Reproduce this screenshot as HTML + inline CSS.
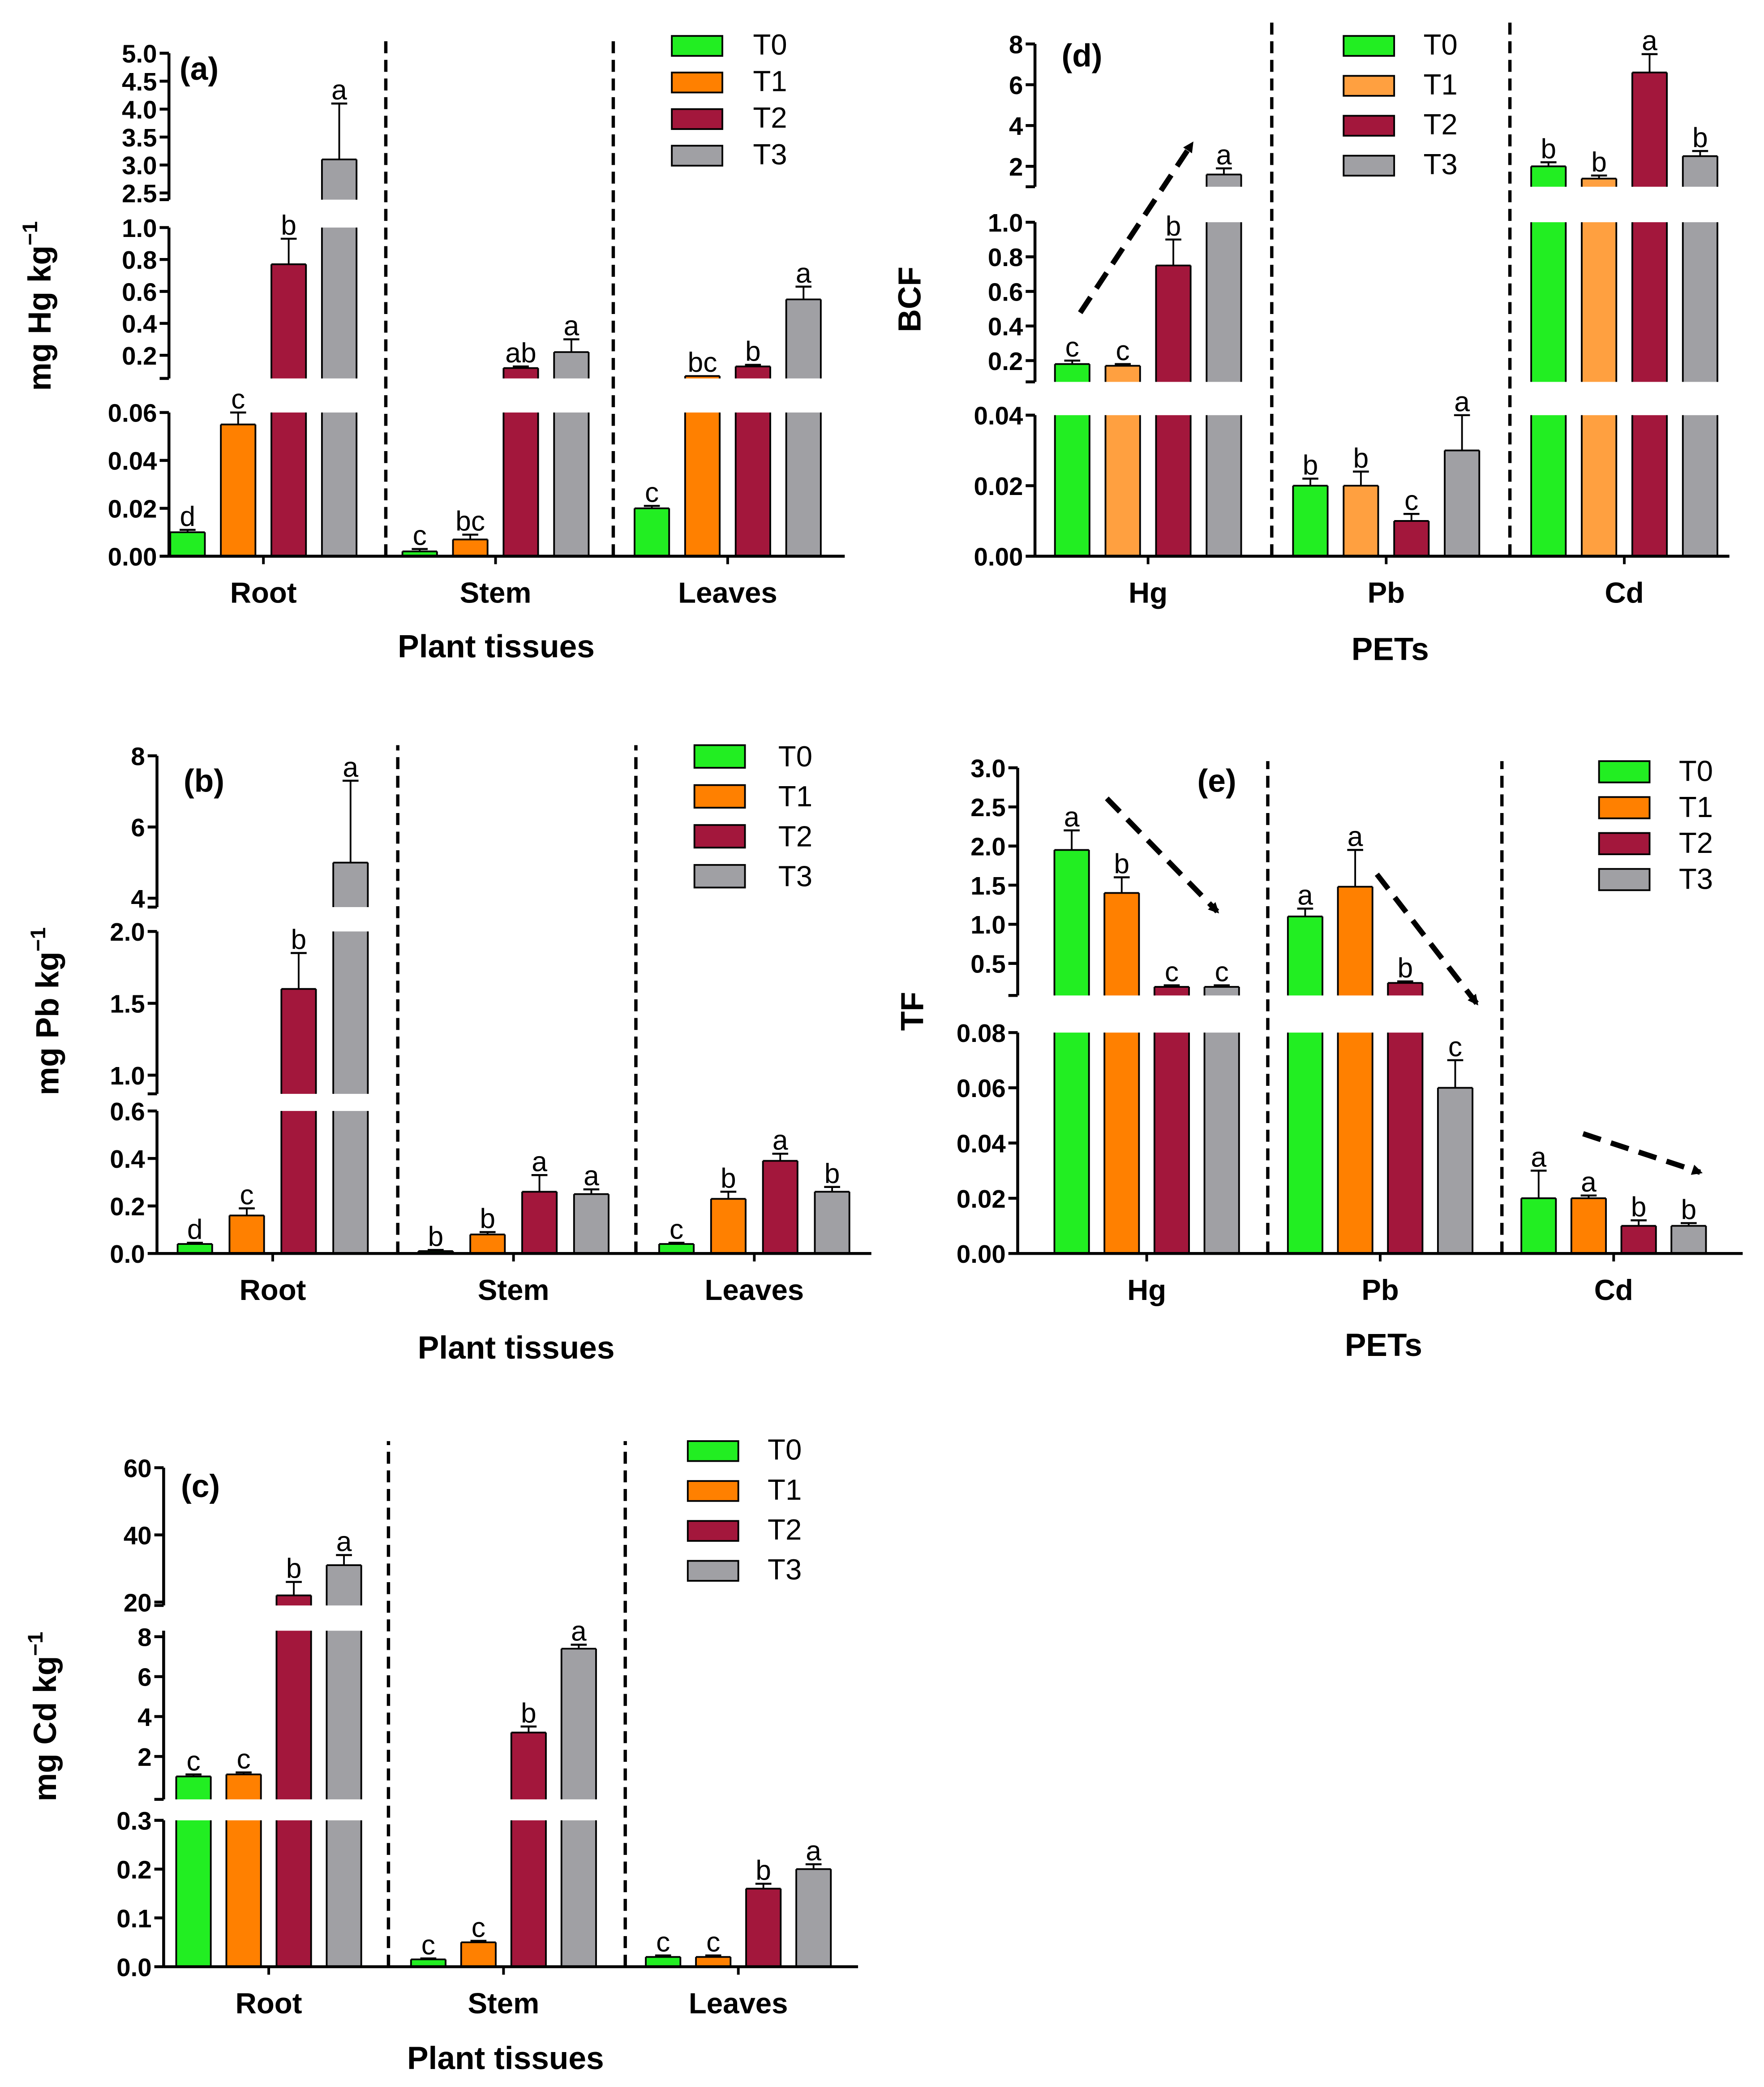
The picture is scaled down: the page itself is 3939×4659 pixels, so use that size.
<!DOCTYPE html>
<html><head><meta charset="utf-8"><style>
html,body{margin:0;padding:0;background:#fff;}
svg{display:block;}
text{font-family:"Liberation Sans",Arial,sans-serif;}
.tick{font-weight:bold;font-size:19px;}
.grp{font-weight:bold;font-size:22px;}
.ttl{font-weight:bold;font-size:24px;}
.let{font-size:21px;}
.leg{font-size:22px;}
</style></head><body>
<svg id="fig" width="3939" height="4659" viewBox="0 0 1326 1568.4" xmlns="http://www.w3.org/2000/svg">
<defs><marker id="ah" markerWidth="8" markerHeight="8" refX="6" refY="4" orient="auto" markerUnits="userSpaceOnUse"><path d="M0,0 L8,4 L0,8 z" fill="#000"/></marker></defs>
<rect width="1326" height="1568.4" fill="#fff"/>
</svg>
<script>
const seriesNames=['T0','T1','T2','T3'];
// (a) Hg
const aCategories=['Root','Stem','Leaves'];
const aValues=[[0.01,0.002,0.02],[0.055,0.007,0.07],[0.77,0.12,0.13],[3.1,0.22,0.55]];
const aErrTop=[[0.011,0.003,0.021],[0.06,0.009,0.072],[0.93,0.13,0.14],[4.1,0.3,0.63]];
const aLetters=[['d','c','c'],['c','bc','bc'],['b','ab','b'],['a','a','a']];
const aTicks=[[0,0.02,0.04,0.06],[0.2,0.4,0.6,0.8,1.0],[2.5,3.0,3.5,4.0,4.5,5.0]];
const aTickLabels=[['0.00','0.02','0.04','0.06'],['0.2','0.4','0.6','0.8','1.0'],['2.5','3.0','3.5','4.0','4.5','5.0']];
// (b) Pb
const bCategories=['Root','Stem','Leaves'];
const bValues=[[0.04,0.01,0.04],[0.16,0.08,0.23],[1.6,0.26,0.39],[5.0,0.25,0.26]];
const bErrTop=[[0.045,0.015,0.045],[0.19,0.09,0.26],[1.85,0.33,0.42],[7.3,0.27,0.28]];
const bLetters=[['d','b','c'],['c','b','b'],['b','a','a'],['a','a','b']];
const bTicks=[[0,0.2,0.4,0.6],[1.0,1.5,2.0],[4,6,8]];
const bTickLabels=[['0.0','0.2','0.4','0.6'],['1.0','1.5','2.0'],['4','6','8']];
// (c) Cd
const cCategories=['Root','Stem','Leaves'];
const cValues=[[1.0,0.015,0.02],[1.1,0.05,0.02],[22,3.2,0.16],[31,7.4,0.2]];
const cErrTop=[[1.1,0.017,0.023],[1.2,0.053,0.023],[26,3.5,0.17],[34,7.6,0.21]];
const cLetters=[['c','c','c'],['c','c','c'],['b','b','b'],['a','a','a']];
const cTicks=[[0,0.1,0.2,0.3],[2,4,6,8],[20,40,60]];
const cTickLabels=[['0.0','0.1','0.2','0.3'],['2','4','6','8'],['20','40','60']];
// (d) BCF
const dCategories=['Hg','Pb','Cd'];
const dValues=[[0.18,0.02,2.0],[0.17,0.02,1.4],[0.75,0.01,6.6],[1.6,0.03,2.5]];
const dErrTop=[[0.2,0.022,2.2],[0.18,0.024,1.55],[0.9,0.012,7.5],[1.9,0.04,2.75]];
const dLetters=[['c','b','b'],['c','b','b'],['b','c','a'],['a','a','b']];
const dTicks=[[0,0.02,0.04],[0.2,0.4,0.6,0.8,1.0],[2,4,6,8]];
const dTickLabels=[['0.00','0.02','0.04'],['0.2','0.4','0.6','0.8','1.0'],['2','4','6','8']];
// (e) TF
const eCategories=['Hg','Pb','Cd'];
const eValues=[[1.95,1.1,0.02],[1.4,1.48,0.02],[0.2,0.25,0.01],[0.2,0.06,0.01]];
const eErrTop=[[2.2,1.2,0.03],[1.6,1.95,0.021],[0.22,0.27,0.012],[0.22,0.07,0.011]];
const eLetters=[['a','a','a'],['b','a','a'],['c','b','b'],['c','c','b']];
const eTicks=[[0,0.02,0.04,0.06,0.08],[0.5,1.0,1.5,2.0,2.5,3.0]];
const eTickLabels=[['0.00','0.02','0.04','0.06','0.08'],['0.5','1.0','1.5','2.0','2.5','3.0']];

const NS='http://www.w3.org/2000/svg';
const svg=document.getElementById('fig');
function mk(tag,attrs,parent,txt){const e=document.createElementNS(NS,tag);for(const k in attrs)e.setAttribute(k,attrs[k]);if(txt!==undefined)e.textContent=txt;(parent||svg).appendChild(e);return e;}

function drawPanel(cfg,cats,vals,errs,lets,ticks,tlabels){
  const g=mk('g',{});
  
  
  const segs=cfg.segs;
  const yOf=(s,v)=>s.y0-s.k*(v-s.v0);
  function segFor(v){for(let i=0;i<segs.length;i++){if(v<=segs[i].max)return segs[i];}return segs[segs.length-1];}
  for(let si=0;si<vals.length;si++){
    for(let gi=0;gi<cats.length;gi++){
      const v=vals[si][gi];
      const cx=cfg.groupX0+gi*cfg.groupStep+(si-1.5)*cfg.barStep;
      const x=cx-cfg.barW/2;
      segs.forEach((s,k)=>{
        if(v<=s.min)return;
        if(k>0&&v<=segs[k-1].max)return;
        const top=Math.min(v,s.max);
        const yb=yOf(s,s.min), yt=yOf(s,top);
        const r=mk('rect',{x:x,y:yt,width:cfg.barW,height:Math.max(0,yb-yt),fill:cfg.colors[si],stroke:'none'},g);
        
        
        mk('line',{x1:x,y1:yb,x2:x,y2:yt,stroke:'#000','stroke-width':1.3},g);
        mk('line',{x1:x+cfg.barW,y1:yb,x2:x+cfg.barW,y2:yt,stroke:'#000','stroke-width':1.3},g);
        if(v<=s.max)mk('line',{x1:x,y1:yt,x2:x+cfg.barW,y2:yt,stroke:'#000','stroke-width':1.3},g);
      });
      const s=segFor(v);
      const yv=yOf(s,Math.min(v,s.max));
      const e=Math.min(errs[si][gi],s.max);
      const ye=yOf(s,e);
      if(ye<yv-0.5){
        mk('line',{x1:cx,y1:yv,x2:cx,y2:ye,stroke:'#000','stroke-width':1.3},g);
        mk('line',{x1:cx-6,y1:ye,x2:cx+6,y2:ye,stroke:'#000','stroke-width':1.5},g);
      }
      const t=mk('text',{x:cx,y:Math.min(yv,ye)-3,'text-anchor':'middle',class:'let'},g,lets[si][gi]);
      
      
    }
  }
  segs.forEach((s,k)=>{
    const yb=yOf(s,s.min), yt=yOf(s,s.max);
    mk('line',{x1:cfg.ax,y1:yb,x2:cfg.ax,y2:yt,stroke:'#000','stroke-width':2.2},g);
    if(k>0)mk('line',{x1:cfg.ax-7,y1:yb,x2:cfg.ax,y2:yb,stroke:'#000','stroke-width':2.2},g);
    ticks[k].forEach((tv,ti)=>{
      const y=yOf(s,tv);
      mk('line',{x1:cfg.ax-7,y1:y,x2:cfg.ax,y2:y,stroke:'#000','stroke-width':2.2},g);
      const t=mk('text',{x:cfg.ax-9,y:y+7,'text-anchor':'end',class:'tick'},g,tlabels[k][ti]);
      
      
    });
  });
  const y0=yOf(segs[0],0);
  mk('line',{x1:cfg.ax,y1:y0,x2:cfg.axEnd,y2:y0,stroke:'#000','stroke-width':2.2},g);
  cats.forEach((c,gi)=>{
    const cx=cfg.groupX0+gi*cfg.groupStep;
    mk('line',{x1:cx,y1:y0,x2:cx,y2:y0+6,stroke:'#000','stroke-width':2},g);
    const t=mk('text',{x:cx,y:y0+35,'text-anchor':'middle',class:'grp'},g,c);
    
    
  });
  cfg.dash.forEach(dx=>mk('line',{x1:dx,y1:y0,x2:dx,y2:cfg.dashTop,stroke:'#000','stroke-width':2.5,'stroke-dasharray':'9,5'},g));
  const xt=mk('text',{x:cfg.xTitle[0],y:cfg.xTitle[1],'text-anchor':'middle',class:'ttl'},g,cfg.xTitleText);
  
  
  const yt=mk('text',{x:0,y:0,'text-anchor':'middle',class:'ttl',transform:'translate('+cfg.yTitle[0]+','+cfg.yTitle[1]+') rotate(-90)'},g);
  
  
  yt.textContent=cfg.yTitleText;
  if(cfg.sup){mk('tspan',{dy:-10,'font-size':16},yt,cfg.sup);}
  const pl=mk('text',{x:cfg.label[0],y:cfg.label[1],class:'ttl'},g,cfg.labelText);
  
  
  seriesNames.forEach((n,i)=>{
    const ly=cfg.leg[1]+i*cfg.leg[3];
    const r=mk('rect',{x:cfg.leg[0],y:ly,width:38,height:cfg.leg[4],fill:cfg.colors[i],stroke:'#000','stroke-width':1.3},g);
    
    
    const t=mk('text',{x:cfg.leg[2],y:ly+cfg.leg[4]-1,class:'leg'},g,n);
    
    
  });
  (cfg.arrows||[]).forEach(a=>{
    const l=mk('line',{x1:a[0],y1:a[1],x2:a[2],y2:a[3],stroke:'#000','stroke-width':4,'stroke-dasharray':'14,8','marker-end':'url(#ah)'},g);
    
    
  });
}
const C=['#22ee22','#ff8000','#a3173c','#a0a0a4'];
const Cd=['#22ee22','#ffa040','#a3173c','#a0a0a4'];

drawPanel({id:'a',ax:127,axEnd:635,groupX0:198,groupStep:174.5,barStep:38,barW:26,colors:C,
 segs:[{min:0,max:0.06,v0:0,y0:418,k:1800},{min:0.055,max:1.0,v0:0.2,y0:267,k:120},{min:2.38,max:5.0,v0:2.5,y0:145,k:42}],
 dash:[290,461],dashTop:28,xTitle:[373,494],xTitleText:'Plant tissues',yTitle:[38,230],yTitleText:'mg Hg kg',sup:'−1',
 label:[135,60],labelText:'(a)',leg:[505,27,566,27.5,15]},aCategories,aValues,aErrTop,aLetters,aTicks,aTickLabels);

drawPanel({id:'b',ax:118,axEnd:655,groupX0:205,groupStep:181,barStep:39,barW:26,colors:C,
 segs:[{min:0,max:0.6,v0:0,y0:942,k:178.5},{min:0.87,max:2.0,v0:1.0,y0:808,k:108},{min:3.75,max:8,v0:4,y0:675,k:26.75}],
 dash:[299,478],dashTop:560,xTitle:[388,1021],xTitleText:'Plant tissues',yTitle:[44,760],yTitleText:'mg Pb kg',sup:'−1',
 label:[138,595],labelText:'(b)',leg:[522,560,585,30,17]},bCategories,bValues,bErrTop,bLetters,bTicks,bTickLabels);

drawPanel({id:'c',ax:123,axEnd:645,groupX0:202,groupStep:176.5,barStep:37.7,barW:26,colors:C,
 segs:[{min:0,max:0.3,v0:0,y0:1478,k:366.7},{min:-0.15,max:8.3,v0:2,y0:1320,k:15},{min:19,max:60,v0:20,y0:1204,k:2.525}],
 dash:[292,470],dashTop:1083,xTitle:[380,1555],xTitleText:'Plant tissues',yTitle:[42,1290],yTitleText:'mg Cd kg',sup:'−1',
 label:[136,1125],labelText:'(c)',leg:[517,1083,577,30,15]},cCategories,cValues,cErrTop,cLetters,cTicks,cTickLabels);

drawPanel({id:'d',ax:778,axEnd:1300,groupX0:863,groupStep:179,barStep:38,barW:26,colors:Cd,
 segs:[{min:0,max:0.04,v0:0,y0:418,k:2650},{min:0.077,max:1.0,v0:0.2,y0:271,k:130},{min:1.0,max:8,v0:2,y0:125,k:15.33}],
 dash:[956,1135],dashTop:14,xTitle:[1045,496],xTitleText:'PETs',yTitle:[692,225],yTitleText:'BCF',
 label:[798,50],labelText:'(d)',leg:[1010,27,1070,30,15],arrows:[[812,235,896,108]]},dCategories,dValues,dErrTop,dLetters,dTicks,dTickLabels);

drawPanel({id:'e',ax:765,axEnd:1310,groupX0:862,groupStep:175.5,barStep:37.6,barW:26,colors:C,
 segs:[{min:0,max:0.08,v0:0,y0:942,k:2075},{min:0.09,max:3.0,v0:0.5,y0:724,k:58.8}],
 dash:[953,1129],dashTop:572,xTitle:[1040,1019],xTitleText:'PETs',yTitle:[694,760],yTitleText:'TF',
 label:[900,595],labelText:'(e)',leg:[1202,572,1262,27,16],arrows:[[832,600,915,685],[1035,657,1110,754],[1190,852,1278,881]]},eCategories,eValues,eErrTop,eLetters,eTicks,eTickLabels);
</script>
</body></html>
